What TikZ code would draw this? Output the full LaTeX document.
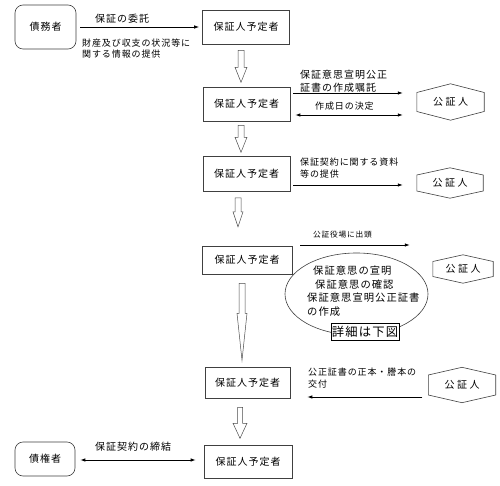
\documentclass[tikz,border=0pt]{standalone}
\usepackage{fontspec}
\setmainfont{Noto Sans CJK JP}[LetterSpace=10]
\usetikzlibrary{arrows.meta,calc,shapes.geometric}
\tikzset{
  box/.style={draw=black!75, line width=0.6pt, minimum width=87, minimum height=34, inner sep=0, font=\fontsize{10}{12}\selectfont},
  rbox/.style={box, rounded corners=8pt},
  hextext/.style={inner sep=0, font=\fontsize{10}{12}\selectfont\addfontfeatures{LetterSpace=25}},
  hexline/.style={draw=black!75, line width=0.6pt},
  hollow/.style={draw=black!70, line width=0.5pt, fill=white},
  arr/.style={draw=black, line width=0.8pt, -{Latex[length=5pt,width=3.5pt]}},
  darr/.style={draw=black, line width=0.8pt, {Latex[length=5pt,width=3.5pt]}-{Latex[length=5pt,width=3.5pt]}},
  lbl/.style={anchor=west, inner sep=0, align=left},
}
\newcommand\fatarrow[7]{\draw[hollow] ($(#1.south)+(#2,#3)$) ++({-#6},0) -- ++({2*#6},0) -- ++(0,{#4-#5}) -- ++({#7-#6},0) -- ++({-#7},#5) -- ++({-#7},{-#5}) -- ++({#7-#6},0) -- cycle;}
\newcommand\hexa[6]{%
  \node[hextext, minimum width=#4, minimum height=#5] (#1) at (#2,#3) {公証人};
  \draw[hexline] (#1.north) -- ($(#1.east)+(0,-#6)$) -- ($(#1.east)+(0,#6)$) -- (#1.south) -- ($(#1.west)+(0,#6)$) -- ($(#1.west)+(0,-#6)$) -- cycle;}
\begin{document}
\begin{tikzpicture}[x=1pt,y=-1pt]
\fill[white] (0,0) rectangle (500,486);
\useasboundingbox (0,0) rectangle (500,486);

% left rounded boxes
\node[rbox, minimum width=61, minimum height=44] (m) at (45.5,27) {債務者};
\node[rbox, minimum width=60, minimum height=34] (c) at (45,459) {債権者};

% main boxes
\node[box] (b1) at (246,27) {保証人予定者};
\node[box] (b2) at (246.5,104) {保証人予定者};
\node[box, minimum height=35] (b3) at (246.5,174) {保証人予定者};
\node[box, minimum width=90, minimum height=28] (b4) at (247,260) {保証人予定者};
\node[box, minimum width=85, minimum height=31] (b5) at (247.5,382.5) {保証人予定者};
\node[box, minimum width=88, minimum height=33] (b6) at (248,461.5) {保証人予定者};

% hexagons
\hexa{h1}{450.5}{102}{67}{36}{9.5}
\hexa{h2}{450}{183}{66}{30}{8}
\hexa{h3}{463}{269}{60}{28}{7.5}
\hexa{h4}{462}{385}{67}{35}{10}

% hollow arrows
\fatarrow{b1}{-5}{6}{32}{15}{3}{6}
\fatarrow{b2}{-5.5}{4}{27}{15}{3}{6}
\fatarrow{b3}{-8.5}{6}{29}{15}{3}{5}
\fatarrow{b4}{-5}{9}{77}{47}{3}{5}
\fatarrow{b5}{-7.5}{9}{31}{15}{2.5}{7}

% ellipse
\node[ellipse, draw=black!75, line width=0.6pt, minimum width=143, minimum height=82, inner sep=0] (e) at (356.5,294) {};
\node[lbl, font=\fontsize{10.3}{13.7}\selectfont] (et) at (307,291) {\hspace{6pt}保証意思の宣明\\\hspace{8pt}保証意思の確認\\保証意思宣明公正証書\\の作成};
\node[draw=black, line width=0.8pt, fill=white, minimum width=68, minimum height=17, inner sep=0, font=\fontsize{12.3}{14}\selectfont] (d) at (365,331.5) {詳細は下図};

% connectors
\draw[arr] ([xshift=4]m.east) -- ([xshift=-3]b1.west);
\draw[arr] ($(b2.east)+(3,-11)$) -- ($(h1.west)+(-14,-9)$);
\draw[darr] ($(b2.east)+(5,11)$) -- ($(h1.west)+(-14,13)$);
\draw[arr] ($(b3.east)+(3,11)$) -- ($(h2.west)+(-14,2)$);
\draw[arr] ($(b4.east)+(8,-15)$) -- ($(h3.west)+(-23,-24)$);
\draw[arr] ($(h4.west)+(-6,12)$) -- ($(b5.east)+(17,14.5)$);
\draw[darr] ($(c.east)+(5,1)$) -- ($(b6.west)+(-8,-1.5)$);

% labels
\node[lbl, font=\fontsize{10}{12}\selectfont] (l1) at (95,19) {保証の委託};
\node[lbl, font=\fontsize{9}{11.5}\selectfont] (l2) at (82,48.5) {財産及び収支の状況等に\\関する情報の提供};
\node[lbl, font=\fontsize{10}{13.5}\selectfont] (l3) at (300,81) {保証意思宣明公正\\証書の作成嘱託};
\node[lbl, font=\fontsize{9}{11}\selectfont] (l4) at (315,106) {作成日の決定};
\node[lbl, font=\fontsize{9}{12.5}\selectfont] (l5) at (300,168) {保証契約に関する資料\\等の提供};
\node[lbl, font=\fontsize{7.7}{10}\selectfont] (l6) at (313,235) {公証役場に出頭};
\node[lbl, font=\fontsize{9}{11.5}\selectfont] (l7) at (308,378) {公正証書の正本・謄本の\\交付};
\node[lbl, font=\fontsize{10}{12}\selectfont] (l8) at (95,447) {保証契約の締結};
\end{tikzpicture}
\end{document}
